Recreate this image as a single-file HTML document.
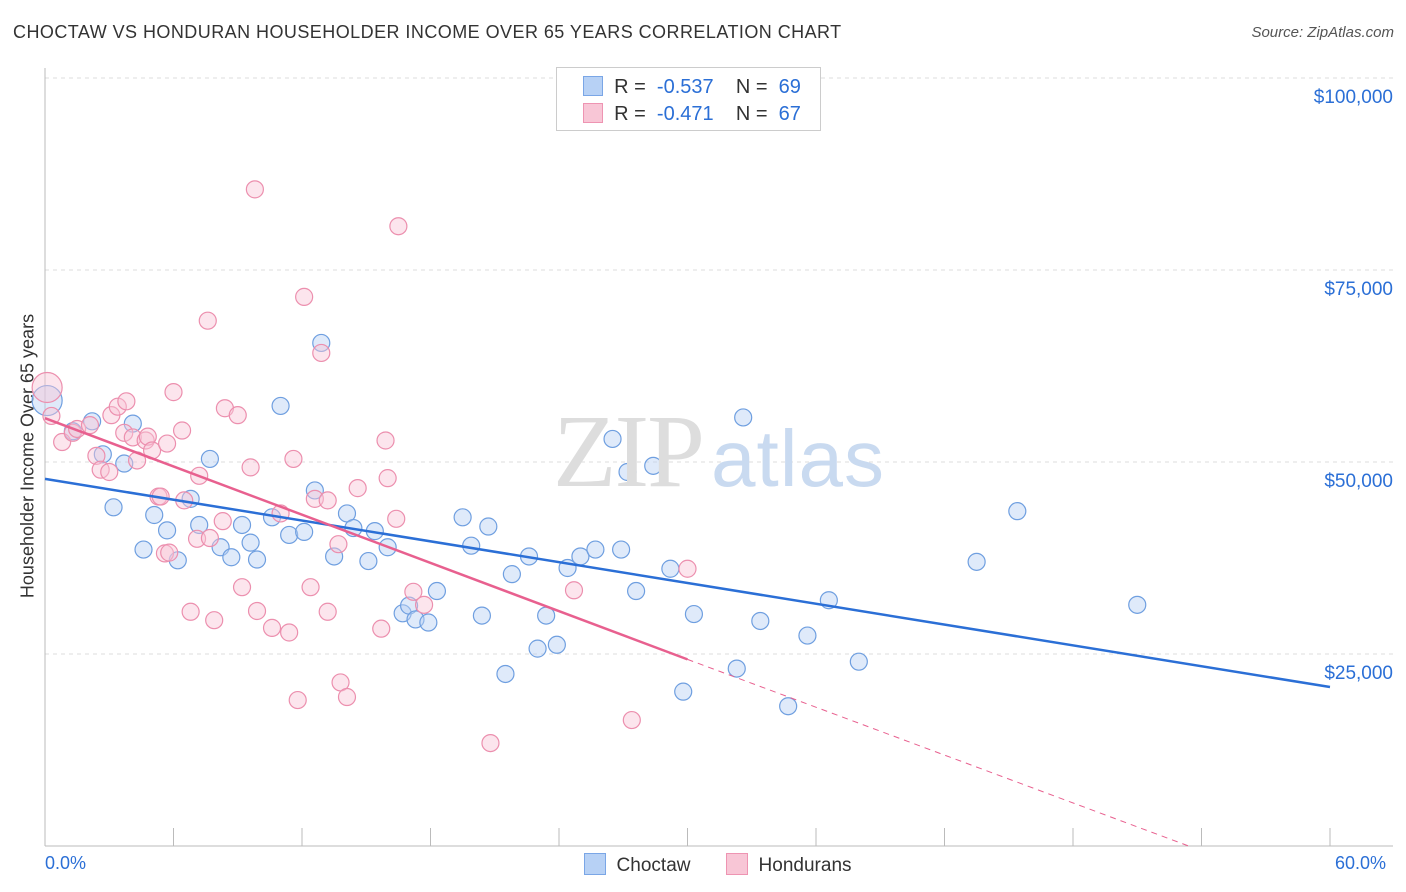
<!DOCTYPE html>
<html><head><meta charset="utf-8"><style>
body{margin:0;background:#fff;font-family:"Liberation Sans",sans-serif;}
#wrap{position:relative;width:1406px;height:892px;overflow:hidden;}
.t{position:absolute;white-space:nowrap;}
</style></head><body>
<div id="wrap">
<div class="t" style="left:13px;top:22px;font-size:18px;color:#333;letter-spacing:0.45px">CHOCTAW VS HONDURAN HOUSEHOLDER INCOME OVER 65 YEARS CORRELATION CHART</div>
<div class="t" style="right:12px;top:24px;font-size:15px;color:#555;font-style:italic">Source: ZipAtlas.com</div>
<div class="t" style="left:28px;top:456px;font-size:18px;color:#333;transform:translate(-50%,-50%) rotate(-90deg)">Householder Income Over 65 years</div>
<svg id="svg" width="1406" height="892" style="position:absolute;left:0;top:0"></svg>
<div class="t" style="left:553px;top:392px;font-size:104px;color:#ddd;font-family:'Liberation Serif',serif;letter-spacing:-2px">ZIP<span style="font-family:'Liberation Sans',sans-serif;color:#c9daf0;font-size:80px;letter-spacing:1px;margin-left:8px">atlas</span></div>
<div style="position:absolute;left:556px;top:67px;width:263px;height:62px;border:1px solid #ccc;background:#fff;font-size:20px;color:#333">
 <div style="position:absolute;left:26px;top:8px;"><span style="display:inline-block;width:18px;height:18px;background:#b7d1f5;border:1px solid #7aa6e6;vertical-align:-3px"></span>&nbsp; R = &nbsp;<span style="color:#2b6fd6">-0.537</span>&nbsp;&nbsp;&nbsp; N = &nbsp;<span style="color:#2b6fd6">69</span></div>
 <div style="position:absolute;left:26px;top:35px;"><span style="display:inline-block;width:18px;height:18px;background:#f8c6d6;border:1px solid #ee94b2;vertical-align:-3px"></span>&nbsp; R = &nbsp;<span style="color:#2b6fd6">-0.471</span>&nbsp;&nbsp;&nbsp; N = &nbsp;<span style="color:#2b6fd6">67</span></div>
</div>
<div class="t" style="left:45px;top:853px;font-size:18px;color:#2b6fd6">0.0%</div>
<div class="t" style="left:1335px;top:853px;font-size:18px;color:#2b6fd6">60.0%</div>
<div class="t" style="left:584px;top:853px;font-size:19px;color:#333"><span style="display:inline-block;width:20px;height:20px;background:#b7d1f5;border:1px solid #7aa6e6;vertical-align:-4px"></span>&nbsp; Choctaw</div>
<div class="t" style="left:726px;top:853px;font-size:19px;color:#333"><span style="display:inline-block;width:20px;height:20px;background:#f8c6d6;border:1px solid #ee94b2;vertical-align:-4px"></span>&nbsp; Hondurans</div>
</div>
<script>
const yTicks=[25000,50000,75000,100000];
const yTickLabels=["$25,000","$50,000","$75,000","$100,000"];
const choctawX=[0.1,1.3,2.2,2.7,4.1,3.7,3.2,4.6,5.1,5.7,6.2,6.8,7.2,7.7,8.2,8.7,9.2,9.6,9.9,10.6,11.0,11.4,12.1,12.6,12.9,13.5,14.1,14.4,15.1,15.4,16.0,16.7,17.0,17.3,17.9,18.3,19.5,19.9,20.4,20.7,21.5,21.8,22.6,23.0,23.4,23.9,24.4,25.0,25.7,26.5,26.9,27.2,27.6,28.4,29.2,29.8,30.3,32.3,32.6,33.4,34.7,35.6,36.6,38.0,43.5,45.4,51.0];
const choctawY=[58000,54000,55300,51000,55000,49800,44100,38600,43100,41100,37200,45200,41800,50400,38900,37600,41800,39500,37300,42800,57300,40500,40900,46300,65500,37700,43300,41400,37100,41000,38900,30300,31300,29500,29100,33200,42800,39100,30000,41600,22400,35400,37700,25700,30000,26200,36200,37700,38600,53000,38600,48700,33200,49500,36100,20100,30200,23100,55800,29300,18200,27400,32000,24000,37000,43600,31400];
const honduranX=[0.1,0.3,0.8,1.3,1.5,2.1,2.4,2.6,3.0,3.1,3.4,3.8,3.7,4.1,4.3,4.7,4.8,5.0,5.3,5.6,5.7,6.0,6.4,6.5,6.8,7.1,7.2,7.6,7.7,7.9,8.3,8.4,9.0,9.2,9.6,9.8,9.9,10.6,11.0,11.4,11.6,11.8,12.1,12.4,12.6,12.9,13.2,13.2,13.7,13.8,14.1,14.6,15.7,15.9,16.0,16.4,16.5,17.2,17.7,27.4,30.0,20.8,24.7,5.8,5.4];
const honduranY=[59700,56000,52600,53800,54300,54800,50800,49000,48700,56100,57200,57900,53800,53200,50200,52800,53300,51500,45500,38100,52400,59100,54100,45000,30500,40000,48200,68400,40100,29400,42300,57000,56100,33700,49300,85500,30600,28400,43300,27800,50400,19000,71500,33700,45200,64200,45000,30500,39300,21300,19400,46600,28300,52800,47900,42600,80700,33100,31400,16400,36100,13400,33300,38200,45500];
const X0=45,X1=1330,YB=846,PY=192/25000;
const xs=v=>X0+(v/60)*(X1-X0), ys=v=>YB-v*PY;
const svg=document.getElementById('svg');const NS='http://www.w3.org/2000/svg';
function mk(t,a){const e=document.createElementNS(NS,t);for(const k in a)e.setAttribute(k,a[k]);svg.appendChild(e);return e;}
yTicks.forEach((t,i)=>{
 const g=mk('line',{x1:X0,x2:1393,y1:ys(t),y2:ys(t),stroke:'#ddd','stroke-dasharray':'4,4'});
 
 
 const tx=mk('text',{x:1393,y:ys(t)+25,'text-anchor':'end','font-size':19,fill:'#2b6fd6','font-family':'Liberation Sans'});
 tx.textContent=yTickLabels[i];
 
 
});
const ax=mk('line',{x1:X0,x2:1393,y1:YB,y2:YB,stroke:'#bbb'});


const ay=mk('line',{x1:X0,x2:X0,y1:68,y2:YB,stroke:'#bbb'});


for(let i=0;i<=10;i++){const t=mk('line',{x1:xs(i*6),x2:xs(i*6),y1:YB,y2:YB-18,stroke:'#bbb'});
 
 }
function pts(X,Y,fill,stroke,name){X.forEach((x,i)=>{const r=i==0?15:8.5;
 const c=mk('circle',{cx:xs(x),cy:ys(Y[i]),r:r,fill:fill,'fill-opacity':0.45,stroke:stroke,'stroke-width':1.2});
 
 });}
pts(choctawX,choctawY,'#b7d1f5','#6f9fe0','choctaw-point');
pts(honduranX,honduranY,'#f8c6d6','#ec8fae','honduran-point');
const bl=mk('line',{x1:xs(0),y1:ys(47800),x2:xs(60),y2:ys(20700),stroke:'#2b6fd6','stroke-width':2.5});


const pl=mk('line',{x1:xs(0),y1:ys(55700),x2:xs(30),y2:ys(24300),stroke:'#e8608f','stroke-width':2.5});


const pd=mk('line',{x1:xs(30),y1:ys(24300),x2:xs(53.4),y2:ys(0),stroke:'#e8608f','stroke-width':1,'stroke-dasharray':'6,5'});


</script>
</body></html>
